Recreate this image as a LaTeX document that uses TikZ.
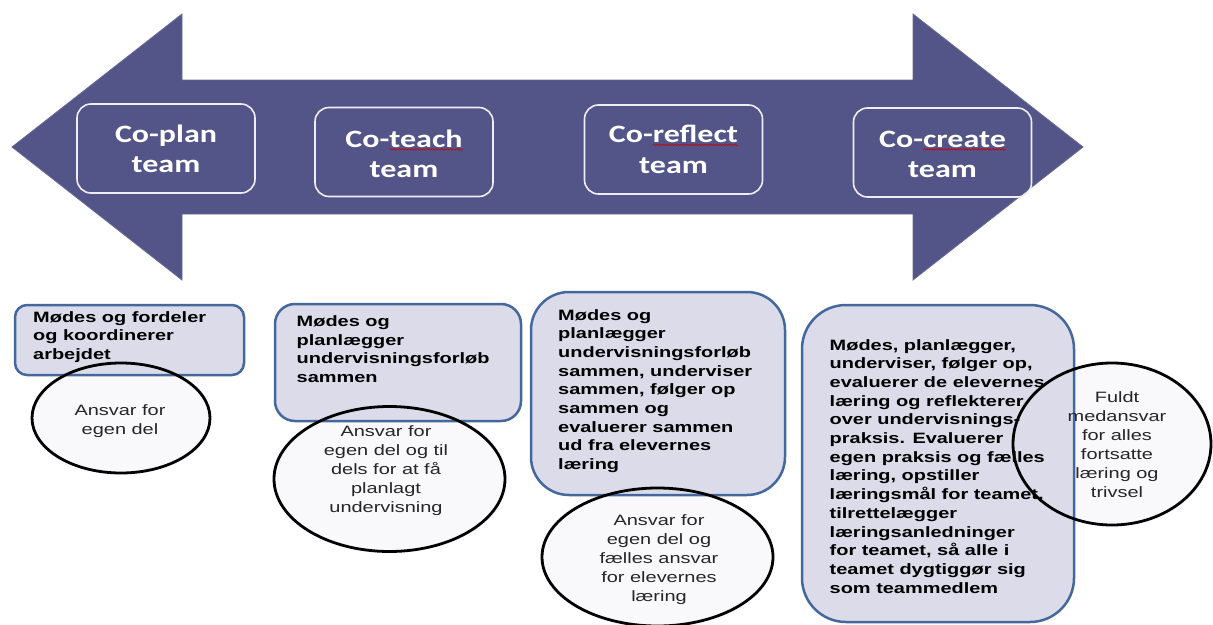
\documentclass[tikz,border=0pt]{standalone}
\usepackage{fontspec}
\usetikzlibrary{shapes.geometric,decorations.pathmorphing}
\newfontfamily\topfont[FakeStretch=1.28]{Carlito}
\newfontfamily\lowfont[FakeStretch=1.33]{Liberation Sans}
\definecolor{arrowcol}{RGB}{83,84,136}
\definecolor{arrowedge}{RGB}{105,105,150}
\definecolor{boxfill}{RGB}{219,219,233}
\definecolor{boxline}{RGB}{68,104,155}
\definecolor{ellcol}{RGB}{249,249,252}
\definecolor{topline}{RGB}{238,238,246}
\newsavebox\sqbox
\newlength\sqwd
\newcommand\squig[1]{\sbox\sqbox{#1}\setlength\sqwd{\wd\sqbox}\rlap{\tikz[baseline=0pt]\draw[red!80!black, line width=0.6pt, decorate, decoration={snake, amplitude=0.8pt, segment length=3pt}] (0pt,-2.4pt) -- (\sqwd,-2.4pt);}\usebox\sqbox}
\newcommand\clines[1]{\vtop{\halign{\hfil##\hfil\cr#1\crcr}}}
\newcommand\llines[1]{\vtop{\halign{##\hfil\cr#1\crcr}}}
\tikzset{
  topbox/.style={draw=topline, line width=1.6pt, rounded corners=14pt, minimum width=178pt, minimum height=89pt, inner sep=0pt},
  toptext/.style={text=white, font=\topfont\bfseries\fontsize{25}{30.5}\selectfont, inner sep=0pt, anchor=base},
  lowbox/.style={draw=boxline, fill=boxfill, line width=2.5pt, inner sep=0pt},
  lowtext/.style={font=\lowfont\bfseries\fontsize{15}{18.7}\selectfont, inner sep=0pt, anchor=base west},
  elltext/.style={font=\lowfont\fontsize{15}{19}\selectfont, text=black!85, inner sep=0pt, anchor=base},
  ellfill/.style={ellipse, fill=ellcol, inner sep=0pt},
  ellline/.style={draw=black, line width=2.8pt}
}
\begin{document}
\begin{tikzpicture}[x=1pt,y=-1pt]
\useasboundingbox (0,0) rectangle (1213,624);
\fill[white] (0,0) rectangle (1213,624);
% big double arrow
\filldraw[fill=arrowcol, draw=arrowedge, line width=0.8pt, line join=miter]
  (12,147) -- (182,14) -- (182,80) -- (913,80) -- (913,14) -- (1083,147)
  -- (913,280) -- (913,214) -- (182,214) -- (182,280) -- cycle;
% top boxes
\node[topbox] (t1) at (166,148.5) {};
\node[toptext] (t1t) at (166,142) {\clines{Co-plan\cr team}};
\node[topbox] (t2) at (404,152) {};
\node[toptext] (t2t) at (404,147) {\clines{Co-\squig{teach}\cr team}};
\node[topbox] (t3) at (673.5,149.5) {};
\node[toptext] (t3t) at (673.5,142.5) {\clines{Co-\squig{reflect}\cr team}};
\node[topbox] (t4) at (942.5,152.5) {};
\node[toptext] (t4t) at (942.5,147) {\clines{Co-\squig{create}\cr team}};
% ellipse fills (behind boxes)
\node[ellfill, minimum width=178pt, minimum height=110pt] (e1) at (121,418) {};
\node[ellfill, minimum width=231pt, minimum height=145pt] (e2) at (389.5,479) {};
\node[ellfill, minimum width=231pt, minimum height=138pt] (e3) at (657.5,557) {};
\node[ellfill, minimum width=198pt, minimum height=162pt] (e4) at (1112,444) {};
% lower boxes
\node[lowbox, rounded corners=12pt, minimum width=229pt, minimum height=70pt] (b1) at (129.5,340) {};
\node[lowbox, rounded corners=20pt, minimum width=246pt, minimum height=117pt] (b2) at (398,362.5) {};
\node[lowbox, rounded corners=38pt, minimum width=254pt, minimum height=203pt] (b3) at (658,393.5) {};
\node[lowbox, rounded corners=44pt, minimum width=272pt, minimum height=317pt] (b4) at (938,463.5) {};
% lower box texts
\node[lowtext] (b1t) at (33,322) {\llines{Mødes og fordeler\cr og koordinerer\cr arbejdet}};
\node[lowtext] (b2t) at (296.5,326.5) {\llines{Mødes og\cr planlægger\cr undervisningsforløb\cr sammen}};
\node[lowtext] (b3t) at (558,320) {\llines{Mødes og\cr planlægger\cr undervisningsforløb\cr sammen, underviser\cr sammen, følger op\cr sammen og\cr evaluerer sammen\cr ud fra elevernes\cr læring}};
\node[lowtext] (b4t) at (829.5,350) {\llines{Mødes, planlægger,\cr underviser, følger op,\cr evaluerer de elevernes\cr læring og reflekterer\cr over undervisnings-\cr praksis. Evaluerer\cr egen praksis og fælles\cr læring, opstiller\cr læringsmål for teamet,\cr tilrettelægger\cr læringsanledninger\cr for teamet, så alle i\cr teamet dygtiggør sig\cr som teammedlem}};
% ellipse outlines
\draw[ellline] (e1.center) ellipse [x radius=89, y radius=55];
\draw[ellline] (e2.center) ellipse [x radius=115.5, y radius=72.5];
\draw[ellline] (e3.center) ellipse [x radius=115.5, y radius=69];
\draw[ellline] (e4.center) ellipse [x radius=99, y radius=81];
% ellipse texts
\node[elltext] (e1t) at (120,415) {\clines{Ansvar for\cr egen del}};
\node[elltext] (e2t) at (386,436) {\clines{Ansvar for\cr egen del og til\cr dels for at få\cr planlagt\cr undervisning}};
\node[elltext] (e3t) at (659,525) {\clines{Ansvar for\cr egen del og\cr fælles ansvar\cr for elevernes\cr læring}};
\node[elltext] (e4t) at (1117,402) {\clines{Fuldt\cr medansvar\cr for alles\cr fortsatte\cr læring og\cr trivsel}};
\end{tikzpicture}
\end{document}
